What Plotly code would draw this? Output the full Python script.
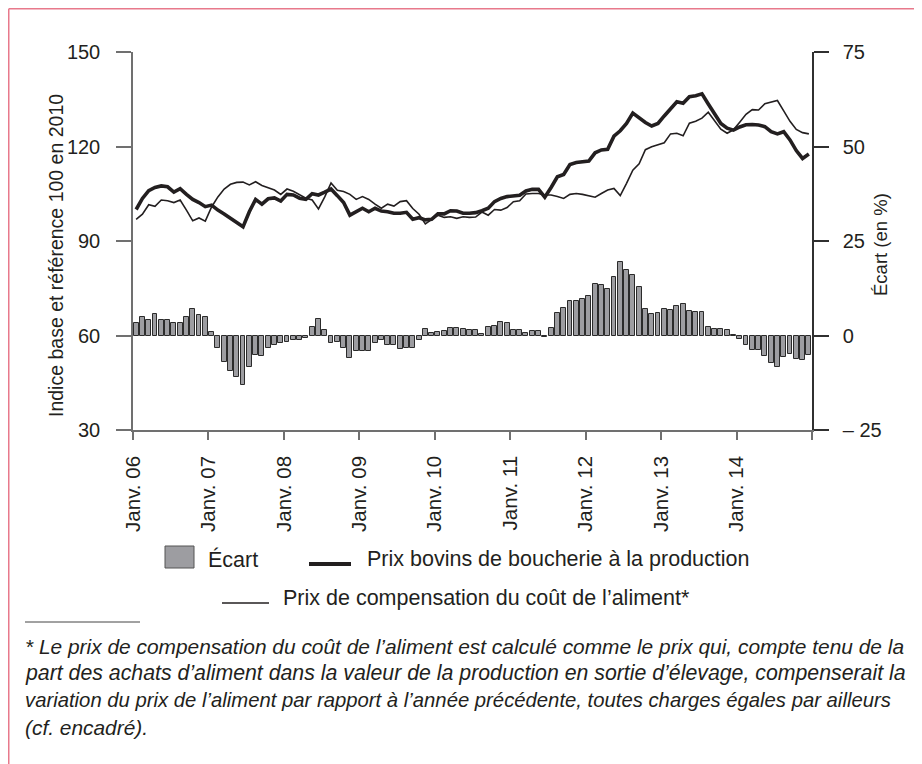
import plotly.graph_objects as go

# ---------------- data ----------------
tick_labels = ["Janv. 06", "Janv. 07", "Janv. 08", "Janv. 09", "Janv. 10",
               "Janv. 11", "Janv. 12", "Janv. 13", "Janv. 14"]

# Écart (en %), monthly Jan 2006 - Dec 2014
ecart = [
    3.4, 4.8, 4.1, 5.7, 4.2, 4.2, 3.4, 3.4, 5.0, 7.1, 5.3, 4.9,
    0.8, -3.2, -7.0, -9.5, -10.9, -13.0, -8.2, -5.1, -5.4, -3.2, -2.5, -1.9,
    -1.6, -1.1, -1.1, -0.6, 2.2, 4.4, 1.5, -1.9, -1.6, -3.4, -6.0, -4.0,
    -4.0, -4.2, -2.0, -1.1, -2.4, -2.6, -3.6, -3.4, -3.4, -1.1, 1.7, 0.7,
    0.9, 1.2, 1.9, 2.1, 1.7, 1.5, 1.5, 0.4, 2.2, 2.6, 3.5, 3.4,
    1.5, 1.5, 0.6, 1.2, 1.3, -0.5, 2.0, 6.0, 7.4, 9.2, 9.0, 9.7,
    10.4, 13.6, 13.4, 12.3, 15.4, 19.4, 17.3, 16.0, 12.8, 7.1, 5.7, 5.9,
    7.1, 6.8, 7.8, 8.4, 6.6, 6.3, 6.3, 2.2, 1.6, 1.8, 1.4, 0.1,
    -1.0, -2.4, -3.8, -3.8, -5.4, -7.2, -8.3, -5.6, -4.9, -6.2, -6.5, -5.1,
]

# Prix bovins de boucherie à la production (indice base 100 en 2010)
prix_bovins = [
    100.0, 103.5, 106.0, 107.0, 107.5, 107.2, 105.5, 106.6, 104.8, 103.2, 102.2, 100.9,
    101.4, 99.8, 98.6, 97.2, 96.1, 94.5, 99.3, 103.2, 101.7, 103.4, 103.7, 102.7,
    104.8, 104.6, 103.6, 103.2, 105.0, 104.6, 105.5, 106.5, 104.4, 102.2, 98.2, 99.3,
    100.4, 99.3, 100.4, 99.5, 99.3, 98.8, 98.8, 99.1, 96.9, 97.4, 96.7, 96.9,
    98.6, 98.6, 99.6, 99.5, 98.8, 98.8, 99.0, 99.6, 100.4, 102.5, 103.5, 104.1,
    104.3, 104.5, 105.9, 106.4, 106.4, 103.9, 107.0, 110.4, 111.1, 114.3, 114.9, 115.2,
    115.4, 118.0, 118.9, 119.1, 123.3, 125.0, 127.3, 130.6, 129.0, 127.6, 126.5, 127.3,
    129.7, 132.1, 134.2, 133.7, 135.8, 136.1, 136.7, 133.5, 130.3, 127.3, 125.8, 125.2,
    126.2, 126.9, 127.0, 126.8, 126.3, 124.7, 124.0, 124.7, 122.1, 118.7, 116.2, 117.6,
]

# Prix de compensation du coût de l'aliment
prix_compensation = [
    96.9, 98.5, 101.5, 101.0, 103.0, 102.8, 102.2, 103.0, 99.8, 96.4, 97.3, 96.3,
    100.8, 104.0, 106.5, 108.0, 108.6, 108.7, 107.8, 108.8, 107.6, 106.8, 106.2, 104.8,
    106.5, 105.8, 104.6, 103.6, 103.0, 100.2, 104.0, 108.4, 106.1, 105.7, 104.8, 103.2,
    104.1, 103.2, 101.7, 100.4, 101.7, 101.1, 102.5, 102.8, 100.3, 98.5, 95.4, 96.7,
    98.2, 97.5, 97.7, 97.2, 97.7, 97.5, 97.6, 99.2, 98.2, 100.0, 99.8, 100.6,
    102.5, 102.8, 104.9, 105.1, 105.1, 104.6, 104.6, 104.1, 103.5, 104.8, 105.1, 104.8,
    104.3, 103.9, 105.1, 106.2, 106.7, 104.4, 108.3, 112.5, 114.5, 119.0, 119.9, 120.5,
    121.2, 124.0, 124.2, 123.4, 127.4, 128.0, 129.0, 130.9, 128.0, 125.5, 124.2, 125.3,
    127.7, 130.2, 131.7, 131.6, 133.6, 134.2, 134.6, 131.3, 128.0, 125.4, 124.4, 124.0,
]

left_ticks = [30, 60, 90, 120, 150]
right_ticks = [-25, 0, 25, 50, 75]
right_ticktext = ["\u2013 25", "0", "25", "50", "75"]

# ---------------- geometry ----------------
# page has an 8 px body margin: figure is 914x756 placed at (8, 8)
OFF = 8
W, H = 922 - OFF, 764 - OFF
PL, PR, PT, PB = 133, 812, 52, 430          # plot area in page coordinates
FONT = "Liberation Sans, Arial, Helvetica, sans-serif"
TXT = "#231f20"


def px(v):
    return (v - PL) / (PR - PL)


def py(v):
    return (PB - v) / (PB - PT)


x = [i + 0.5 for i in range(len(ecart))]

fig = go.Figure()
fig.add_trace(go.Bar(
    x=x, y=ecart, yaxis="y2", width=0.78, name="Écart",
    marker=dict(color="#9d9da1", line=dict(color="#2b2b2b", width=1)),
))
fig.add_trace(go.Scatter(
    x=x, y=prix_compensation, mode="lines", name="Prix de compensation",
    line=dict(color=TXT, width=1.6),
))
fig.add_trace(go.Scatter(
    x=x, y=prix_bovins, mode="lines", name="Prix bovins",
    line=dict(color=TXT, width=3.6),
))

n_months = len(ecart)
fig.update_layout(
    width=W, height=H,
    margin=dict(l=PL - OFF, r=(W + OFF) - PR, t=PT - OFF, b=(H + OFF) - PB, pad=0),
    paper_bgcolor="white", plot_bgcolor="white",
    showlegend=False,
    font=dict(family=FONT, color=TXT),
    bargap=0,
    xaxis=dict(
        range=[0, n_months],
        tickvals=[12 * k for k in range(len(tick_labels) + 1)],
        ticktext=tick_labels + [""],
        tickangle=-90, ticks="outside", ticklen=8, tickwidth=1.5,
        tickcolor="#707070", showline=True, linecolor="#707070", linewidth=1.5,
        showgrid=False, zeroline=False, tickfont=dict(size=20.5, family=FONT, color=TXT),
        ticklabelstandoff=8,
    ),
    yaxis=dict(
        range=[30, 150], tickvals=left_ticks, ticks="outside", ticklen=15,
        tickwidth=1.5, tickcolor="#707070", showline=True, linecolor="#707070",
        linewidth=1.5, showgrid=False, zeroline=False,
        tickfont=dict(size=20, family=FONT, color=TXT), ticklabelstandoff=12,
    ),
    yaxis2=dict(
        range=[-25, 75], tickvals=right_ticks, ticktext=right_ticktext,
        overlaying="y", side="right", ticks="outside", ticklen=15, tickwidth=1.5,
        tickcolor="#303030", showline=True, linecolor="#303030", linewidth=1.5,
        showgrid=False, zeroline=False,
        tickfont=dict(size=20, family=FONT, color=TXT), ticklabelstandoff=10,
    ),
)

shapes = []
annotations = []

# pink frame (top and left edges)
PINK = "#e8798b"
shapes.append(dict(type="line", xref="paper", yref="paper",
                   x0=px(8.75), x1=px(940), y0=py(8.75), y1=py(8.75),
                   line=dict(color=PINK, width=1.5)))
shapes.append(dict(type="line", xref="paper", yref="paper",
                   x0=px(8.75), x1=px(8.75), y0=py(8.75), y1=py(790),
                   line=dict(color=PINK, width=1.5)))

# axis titles
annotations.append(dict(text="Indice base et référence 100 en 2010", xref="paper", yref="paper",
                        x=px(56), y=py(256), textangle=-90, showarrow=False,
                        xanchor="center", yanchor="middle", font=dict(size=19.5, color=TXT)))
annotations.append(dict(text="Écart (en %)", xref="paper", yref="paper",
                        x=px(880), y=py(245), textangle=-90, showarrow=False,
                        xanchor="center", yanchor="middle", font=dict(size=18.5, color=TXT)))

# legend row 1
shapes.append(dict(type="rect", xref="paper", yref="paper",
                   x0=px(165), x1=px(194), y0=py(546), y1=py(568),
                   fillcolor="#9d9da1", line=dict(color="#555555", width=1)))
annotations.append(dict(text="Écart", xref="paper", yref="paper", x=px(206), y=py(559),
                        xanchor="left", yanchor="middle", showarrow=False,
                        font=dict(size=21.5, color=TXT)))
shapes.append(dict(type="line", xref="paper", yref="paper",
                   x0=px(309), x1=px(351), y0=py(564), y1=py(564),
                   line=dict(color=TXT, width=4)))
annotations.append(dict(text="Prix bovins de boucherie à la production", xref="paper", yref="paper",
                        x=px(365), y=py(559), xanchor="left", yanchor="middle", showarrow=False,
                        font=dict(size=21.5, color=TXT)))
# legend row 2
shapes.append(dict(type="line", xref="paper", yref="paper",
                   x0=px(222), x1=px(269), y0=py(603), y1=py(603),
                   line=dict(color=TXT, width=1.5)))
annotations.append(dict(text="Prix de compensation du coût de l’aliment*", xref="paper", yref="paper",
                        x=px(281), y=py(598), xanchor="left", yanchor="middle", showarrow=False,
                        font=dict(size=21.5, color=TXT)))

# footnote
shapes.append(dict(type="line", xref="paper", yref="paper",
                   x0=px(25), x1=px(140), y0=py(622), y1=py(622),
                   line=dict(color="#444444", width=1)))
foot_lines = [
    "* Le prix de compensation du coût de l’aliment est calculé comme le prix qui, compte tenu de la",
    "part des achats d’aliment dans la valeur de la production en sortie d’élevage, compenserait la",
    "variation du prix de l’aliment par rapport à l’année précédente, toutes charges égales par ailleurs",
    "(cf. encadré).",
]
foot_y = [646, 673, 700, 727]
foot_size = [20.9, 21.3, 20.3, 20.9]
for t, yy, fs in zip(foot_lines, foot_y, foot_size):
    annotations.append(dict(text="<i>" + t + "</i>", xref="paper", yref="paper",
                            x=px(23), y=py(yy), xanchor="left", yanchor="middle",
                            showarrow=False, font=dict(size=fs, color=TXT)))

fig.update_layout(shapes=shapes, annotations=annotations)
fig.write_html("out.html")
